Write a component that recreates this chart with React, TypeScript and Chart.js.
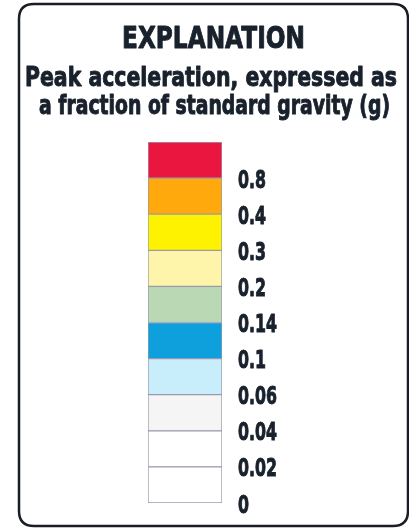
import React, { useEffect, useRef } from "react";
import { Chart, registerables } from "chart.js";

Chart.register(...registerables);

const TITLE = "EXPLANATION";
const SUBTITLE = ["Peak acceleration, expressed as", "a fraction of standard gravity (g)"];

// bins from bottom to top; label marks the lower edge of each bin
const binLabels = ["0", "0.02", "0.04", "0.06", "0.1", "0.14", "0.2", "0.3", "0.4", "0.8"];
const binSizes = [1, 1, 1, 1, 1, 1, 1, 1, 1, 1];
const binColors = [
  "#ffffff",
  "#ffffff",
  "#f5f5f6",
  "#c8eefc",
  "#0da0dc",
  "#bad8b4",
  "#fff5aa",
  "#fff200",
  "#ffa90c",
  "#ea1640",
];

const FONT = "'DejaVu Sans', 'Liberation Sans', sans-serif";
const TEXT_COLOR = "#18212c";

function drawScaledText(ctx: any, text: string, cx: number, baseline: number, size: number, width: number) {
  ctx.save();
  ctx.font = `bold ${size}px ${FONT}`;
  const m = ctx.measureText(text).width;
  const sx = width / m;
  ctx.translate(cx, baseline);
  ctx.scale(sx, 1);
  ctx.textAlign = "center";
  ctx.textBaseline = "alphabetic";
  ctx.fillStyle = TEXT_COLOR;
  ctx.strokeStyle = TEXT_COLOR;
  ctx.lineWidth = 1;
  ctx.lineJoin = "round";
  ctx.fillText(text, 0, 0);
  ctx.strokeText(text, 0, 0);
  ctx.restore();
}

const boxPlugin = {
  id: "legendBox",
  beforeDraw(chart: any) {
    const ctx = chart.ctx;
    ctx.save();
    ctx.fillStyle = "#ffffff";
    ctx.fillRect(0, 0, chart.width, chart.height);
    const x = 19, y = 4, w = 389, h = 522, r = 15;
    ctx.beginPath();
    ctx.moveTo(x + r, y);
    ctx.lineTo(x + w - r, y);
    ctx.quadraticCurveTo(x + w, y, x + w, y + r);
    ctx.lineTo(x + w, y + h - r);
    ctx.quadraticCurveTo(x + w, y + h, x + w - r, y + h);
    ctx.lineTo(x + r, y + h);
    ctx.quadraticCurveTo(x, y + h, x, y + h - r);
    ctx.lineTo(x, y + r);
    ctx.quadraticCurveTo(x, y, x + r, y);
    ctx.closePath();
    ctx.lineWidth = 2.5;
    ctx.strokeStyle = "#1a1e24";
    ctx.stroke();
    ctx.restore();
  },
  afterDraw(chart: any) {
    const ctx = chart.ctx;
    drawScaledText(ctx, TITLE, 213.5, 48, 31, 183);
    drawScaledText(ctx, SUBTITLE[0], 211, 86, 26, 372);
    drawScaledText(ctx, SUBTITLE[1], 214.5, 114, 26, 351);
    // tick labels at bin edges, placed via the y scale
    const ys = chart.scales.y;
    ctx.save();
    ctx.font = `bold 25px ${FONT}`;
    const sx = 28 / ctx.measureText("0.8").width;
    ctx.fillStyle = TEXT_COLOR;
    ctx.strokeStyle = TEXT_COLOR;
    ctx.lineWidth = 1;
    ctx.lineJoin = "round";
    ctx.textAlign = "left";
    ctx.textBaseline = "alphabetic";
    binLabels.forEach((lab, i) => {
      const py = ys.getPixelForValue(i);
      ctx.save();
      ctx.translate(chart.chartArea.right + 16, py + 9.5);
      ctx.scale(sx, 1);
      ctx.fillText(lab, 0, 0);
      ctx.strokeText(lab, 0, 0);
      ctx.restore();
    });
    ctx.restore();
  },
};

export default function App() {
  const ref = useRef<HTMLCanvasElement | null>(null);
  useEffect(() => {
    if (!ref.current) return;
    const chart = new Chart(ref.current, {
      type: "bar",
      data: {
        labels: ["g"],
        datasets: binSizes.map((v, i) => ({
          label: binLabels[i],
          data: [v],
          backgroundColor: binColors[i],
          borderColor: "#9a9aae",
          borderWidth: 1,
          borderSkipped: false,
          barPercentage: 1,
          categoryPercentage: 1,
          yAxisID: "y",
        })),
      },
      options: {
        animation: false,
        responsive: false,
        maintainAspectRatio: false,
        layout: { padding: { left: 18, right: 0, top: 142, bottom: 26 } },
        plugins: {
          legend: { display: false },
          tooltip: { enabled: false },
          title: { display: false },
          subtitle: { display: false },
        },
        scales: {
          x: { stacked: true, display: false },
          yl: {
            position: "left",
            display: true,
            grid: { display: false },
            border: { display: false },
            ticks: { display: false },
            afterFit(s: any) { s.width = 130; },
          },
          y: {
            stacked: true,
            position: "right",
            min: 0,
            max: 10,
            grid: { display: false },
            border: { display: false },
            ticks: { display: false, stepSize: 1 },
            afterFit(s: any) { s.width = 187; },
          },
        },
      },
      plugins: [boxPlugin],
    });
    return () => chart.destroy();
  }, []);
  return (
    <div style={{ position: "fixed", left: 0, top: 0, width: 409, height: 529 }}>
      <canvas ref={ref} width={409} height={529} style={{ width: 409, height: 529 }} />
    </div>
  );
}
